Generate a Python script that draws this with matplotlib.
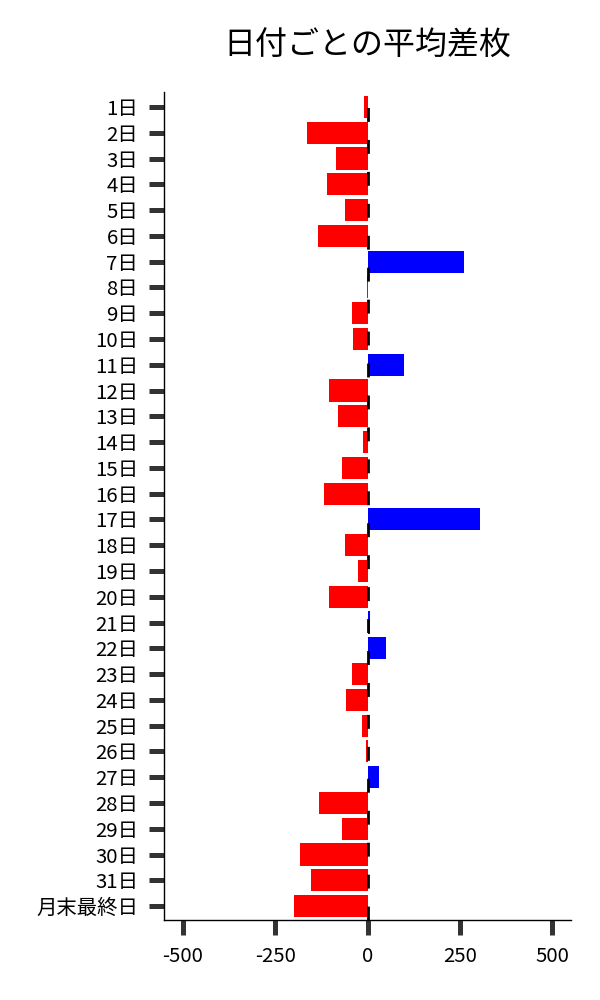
import matplotlib
matplotlib.use("Agg")
import matplotlib.pyplot as plt

plt.rcParams['font.family'] = ['Noto Sans CJK JP', 'DejaVu Sans']

# 日付ラベルと平均差枚
days = [f"{i}日" for i in range(1, 32)] + ["月末最終日"]
avg_diff = [-10, -165, -84, -111, -62, -135, 260, -2, -43, -38,
            100, -103, -79, -11, -68, -119, 306, -60, -27, -103,
            8, 51, -43, -57, -14, -3, 32, -130, -70, -184,
            -154, -198]

colors = ["blue" if v > 0 else "red" for v in avg_diff]

fig = plt.figure(figsize=(6, 10), dpi=100)
ax = fig.add_axes([0.274, 0.08, 0.677, 0.828])

ypos = list(range(len(days)))
ax.barh(ypos, avg_diff, height=0.86, color=colors)
ax.axvline(0, color="black", lw=2, dashes=(5, 6.5), zorder=3)

ax.set_yticks(ypos)
ax.set_yticklabels(days)
ax.set_ylim(len(days) - 0.46, -0.58)
ax.set_xlim(-550, 550)
ax.set_xticks([-500, -250, 0, 250, 500])
ax.set_xticklabels(["-500", "-250", "0", "250", "500"])

ax.tick_params(axis="both", length=11, width=3.6, color="#333333",
               labelsize=14.7, pad=8)

for side in ["top", "right"]:
    ax.spines[side].set_visible(False)
for side in ["left", "bottom"]:
    ax.spines[side].set_linewidth(1.0)
    ax.spines[side].set_color("black")

ax.set_title("日付ごとの平均差枚", fontsize=23, pad=27)

fig.savefig("out.png", dpi=100)
